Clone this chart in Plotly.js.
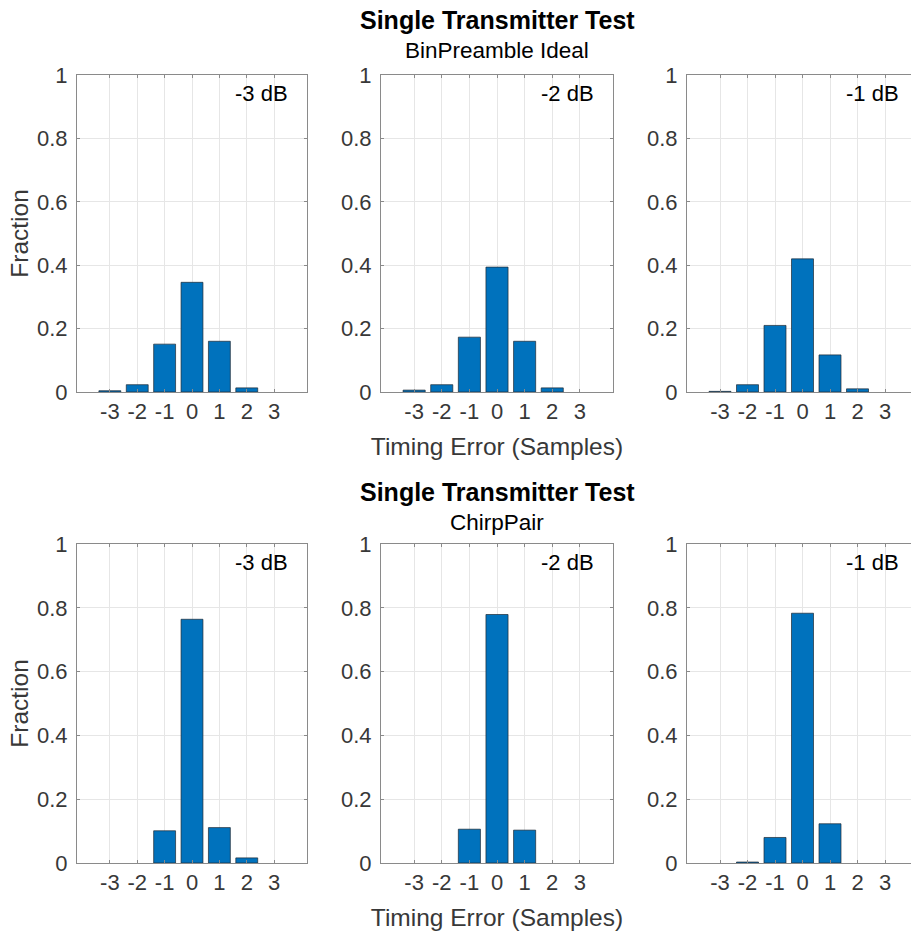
<!DOCTYPE html>
<html>
<head>
<meta charset="utf-8">
<script src="https://cdn.plot.ly/plotly-3.0.1.min.js"></script>
<style>html,body{margin:0;padding:0;overflow:hidden;background:#fff;}#chart{width:920px;height:931px;}</style>
</head>
<body>
<div id="chart"></div>
<script>
const timingError = [-3, -2, -1, 0, 1, 2, 3];
const xTickLabels = ['-3', '-2', '-1', '0', '1', '2', '3'];
const snrLabels = ['-3 dB', '-2 dB', '-1 dB'];
const mainTitle = 'Single Transmitter Test';
const subTitles = ['BinPreamble Ideal', 'ChirpPair'];

const binPreambleM3 = [0.004, 0.023, 0.151, 0.346, 0.160, 0.013, 0];
const binPreambleM2 = [0.006, 0.023, 0.173, 0.394, 0.160, 0.013, 0];
const binPreambleM1 = [0.002, 0.023, 0.210, 0.420, 0.117, 0.010, 0];
const chirpPairM3 = [0, 0, 0.101, 0.764, 0.111, 0.016, 0];
const chirpPairM2 = [0, 0, 0.106, 0.779, 0.103, 0, 0];
const chirpPairM1 = [0, 0.003, 0.080, 0.783, 0.123, 0, 0];

const W = 920, H = 931;
const colsPx = [[77, 307], [381, 613], [687, 918]];
const rowsPx = [[75, 392], [544, 863]];
const series = [[binPreambleM3, binPreambleM2, binPreambleM1], [chirpPairM3, chirpPairM2, chirpPairM1]];

const FONT = 'Liberation Sans, Arial, Helvetica, sans-serif';
const tickFont = {family: FONT, size: 22, color: '#383838'};
const labelFont = {family: FONT, size: 24.5, color: '#383838'};
const axisColor = '#8a8a8a';
const gridColor = '#e6e6e6';

const data = [];
const layout = {
  width: W, height: H,
  margin: {l: 0, r: 0, t: 0, b: 0},
  paper_bgcolor: '#fff', plot_bgcolor: '#fff',
  showlegend: false,
  annotations: []
};

let k = 0;
for (let r = 0; r < 2; r++) {
  for (let c = 0; c < 3; c++) {
    k++;
    const xa = 'xaxis' + (k === 1 ? '' : k), ya = 'yaxis' + (k === 1 ? '' : k);
    const xr = 'x' + (k === 1 ? '' : k), yr = 'y' + (k === 1 ? '' : k);
    const vals = series[r][c];
    data.push({
      type: 'bar', x: timingError, y: vals, xaxis: xr, yaxis: yr,
      width: 0.8,
      marker: {color: '#0072BD', line: {color: '#1f2a33', width: vals.map(v => v > 0 ? 0.7 : 0)}},
      hoverinfo: 'x+y'
    });
    layout[xa] = {
      domain: [colsPx[c][0] / W, colsPx[c][1] / W],
      anchor: yr,
      range: [-4.2, 4.2],
      tickvals: timingError, ticktext: xTickLabels,
      showgrid: true, gridcolor: gridColor, gridwidth: 1,
      zeroline: false,
      showline: true, linecolor: axisColor, linewidth: 1, mirror: 'ticks',
      ticks: 'inside', ticklen: 3, tickcolor: axisColor,
      tickfont: tickFont,
      title: c === 1 ? {text: 'Timing Error (Samples)', font: labelFont, standoff: 14} : {text: ''},
      fixedrange: true
    };
    layout[ya] = {
      domain: [1 - rowsPx[r][1] / H, 1 - rowsPx[r][0] / H],
      anchor: xr,
      range: [0, 1],
      tickvals: [0, 0.2, 0.4, 0.6, 0.8, 1],
      ticktext: ['0', '0.2', '0.4', '0.6', '0.8', '1'],
      showgrid: true, gridcolor: gridColor, gridwidth: 1,
      zeroline: false,
      showline: true, linecolor: axisColor, linewidth: 1, mirror: 'ticks',
      ticks: 'inside', ticklen: 3, tickcolor: axisColor,
      ticklabelstandoff: 4,
      tickfont: tickFont,
      title: c === 0 ? {text: 'Fraction', font: labelFont, standoff: 1} : {text: ''},
      fixedrange: true
    };
    layout.annotations.push({
      xref: xr + ' domain', yref: yr + ' domain',
      x: 1 - 17 / (colsPx[c][1] - colsPx[c][0]), y: 1 - 18 / (rowsPx[r][1] - rowsPx[r][0]),
      xanchor: 'right', yanchor: 'middle',
      text: snrLabels[c], showarrow: false,
      font: {family: FONT, size: 22, color: '#000'}
    });
  }
  const cx = (colsPx[1][0] + colsPx[1][1]) / 2 / W;
  layout.annotations.push({
    xref: 'paper', yref: 'paper', x: cx, y: 1 - (r === 0 ? 20 : 492) / H,
    xanchor: 'center', yanchor: 'middle', showarrow: false,
    text: '<b>' + mainTitle + '</b>',
    font: {family: FONT, size: 25, color: '#000'}
  });
  layout.annotations.push({
    xref: 'paper', yref: 'paper', x: cx, y: 1 - (r === 0 ? 51 : 522) / H,
    xanchor: 'center', yanchor: 'middle', showarrow: false,
    text: subTitles[r],
    font: {family: FONT, size: 22.5, color: '#000'}
  });
}

Plotly.newPlot('chart', data, layout, {displayModeBar: false, staticPlot: true});
</script>
</body>
</html>
